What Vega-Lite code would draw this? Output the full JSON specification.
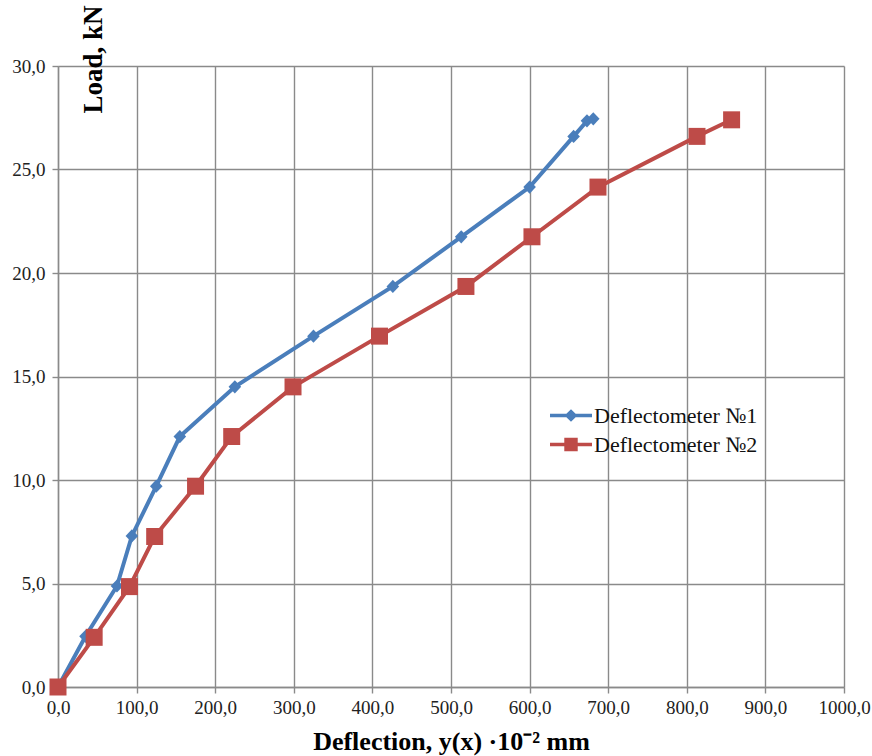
{
  "$schema": "https://vega.github.io/schema/vega-lite/v6.json",
  "width": 786,
  "height": 621,
  "autosize": {"type": "none"},
  "padding": {"left": 58, "top": 66, "right": 28, "bottom": 69},
  "background": "white",
  "config": {
    "view": {"stroke": null},
    "font": "Liberation Serif",
    "legend": {"labelFont": "Liberation Serif", "labelFontSize": 22, "labelColor": "#111111"},
    "axis": {
      "gridColor": "#8a8a8a",
      "gridWidth": 1.4,
      "gridOpacity": 1,
      "domainColor": "#8a8a8a",
      "domainWidth": 1.4,
      "tickColor": "#8a8a8a",
      "tickWidth": 1.4,
      "tickSize": 6,
      "labelFont": "Liberation Serif",
      "labelFontSize": 19,
      "labelColor": "#222222",
      "titleFont": "Liberation Serif",
      "titleFontSize": 26,
      "titleFontWeight": "bold",
      "titleColor": "#000000"
    }
  },
  "data": {
    "values": [
      {"series": "Deflectometer №1", "deflection": 0, "load": 0},
      {"series": "Deflectometer №1", "deflection": 35, "load": 2.45},
      {"series": "Deflectometer №1", "deflection": 75, "load": 4.88},
      {"series": "Deflectometer №1", "deflection": 94, "load": 7.3},
      {"series": "Deflectometer №1", "deflection": 125, "load": 9.7},
      {"series": "Deflectometer №1", "deflection": 155, "load": 12.1},
      {"series": "Deflectometer №1", "deflection": 225, "load": 14.5},
      {"series": "Deflectometer №1", "deflection": 325, "load": 16.95},
      {"series": "Deflectometer №1", "deflection": 426, "load": 19.35},
      {"series": "Deflectometer №1", "deflection": 513, "load": 21.75},
      {"series": "Deflectometer №1", "deflection": 600, "load": 24.15},
      {"series": "Deflectometer №1", "deflection": 656, "load": 26.6},
      {"series": "Deflectometer №1", "deflection": 673, "load": 27.35},
      {"series": "Deflectometer №1", "deflection": 681, "load": 27.45},
      {"series": "Deflectometer №2", "deflection": 0, "load": 0},
      {"series": "Deflectometer №2", "deflection": 46, "load": 2.4},
      {"series": "Deflectometer №2", "deflection": 91, "load": 4.85},
      {"series": "Deflectometer №2", "deflection": 123, "load": 7.27},
      {"series": "Deflectometer №2", "deflection": 175, "load": 9.7},
      {"series": "Deflectometer №2", "deflection": 221, "load": 12.1},
      {"series": "Deflectometer №2", "deflection": 299, "load": 14.5},
      {"series": "Deflectometer №2", "deflection": 409, "load": 16.95},
      {"series": "Deflectometer №2", "deflection": 519, "load": 19.35},
      {"series": "Deflectometer №2", "deflection": 603, "load": 21.75},
      {"series": "Deflectometer №2", "deflection": 687, "load": 24.15},
      {"series": "Deflectometer №2", "deflection": 813, "load": 26.6},
      {"series": "Deflectometer №2", "deflection": 857, "load": 27.4}
    ]
  },
  "encoding": {
    "x": {
      "field": "deflection",
      "type": "quantitative",
      "scale": {"domain": [0, 1000], "nice": false},
      "axis": {
        "values": [0, 100, 200, 300, 400, 500, 600, 700, 800, 900, 1000],
        "labelExpr": "replace(format(datum.value, '.1f'), '.', ',')",
        "labelPadding": 5,
        "labelFlush": false,
        "labelOverlap": false,
        "title": "Deflection, y(x) ·10⁻² mm",
        "titleY": 62,
        "titleBaseline": "alphabetic"
      }
    },
    "y": {
      "field": "load",
      "type": "quantitative",
      "scale": {"domain": [0, 30], "nice": false},
      "axis": {
        "values": [0, 5, 10, 15, 20, 25, 30],
        "labelExpr": "replace(format(datum.value, '.1f'), '.', ',')",
        "labelPadding": 7,
        "labelFlush": false,
        "labelOverlap": false,
        "title": "Load, kN",
        "titleFontSize": 27,
        "titleAngle": -90,
        "titleAlign": "right",
        "titleBaseline": "alphabetic",
        "titleX": 43,
        "titleY": -61
      }
    },
    "color": {
      "field": "series",
      "type": "nominal",
      "scale": {"domain": ["Deflectometer №1", "Deflectometer №2"], "range": ["#4A7EBB", "#BE4B48"]},
      "legend": {
        "title": null,
        "orient": "none",
        "legendX": 492,
        "legendY": 335,
        "symbolSize": 1764,
        "symbolType": "M-1,-0.08L-0.22,-0.08L0,-0.3L0.22,-0.08L1,-0.08L1,0.08L0.22,0.08L0,0.3L-0.22,0.08L-1,0.08Z",
        "symbolFillColor": "#4A7EBB",
        "symbolStrokeWidth": 0,
        "clipHeight": 29,
        "rowPadding": 0,
        "labelOffset": 2,
        "labelFont": "Liberation Serif",
        "labelFontSize": 22,
        "labelColor": "#111111",
        "labelLimit": 300,
        "padding": 0,
        "encode": {
          "symbols": {
            "update": {
              "shape": {"signal": "datum.value === 'Deflectometer №1' ? 'M-1,-0.08L-0.22,-0.08L0,-0.3L0.22,-0.08L1,-0.08L1,0.08L0.22,0.08L0,0.3L-0.22,0.08L-1,0.08Z' : 'M-1,-0.08L-0.32,-0.08L-0.32,-0.32L0.32,-0.32L0.32,-0.08L1,-0.08L1,0.08L0.32,0.08L0.32,0.32L-0.32,0.32L-0.32,0.08L-1,0.08Z'"},
              "fill": {"scale": "color", "field": "value"},
              "fillOpacity": {"value": 1},
              "strokeWidth": {"value": 0}
            }
          },
          "labels": {
            "update": {
              "font": {"value": "Liberation Serif"},
              "fontSize": {"value": 22},
              "fill": {"value": "#111111"}
            }
          }
        }
      }
    }
  },
  "layer": [
    {
      "mark": {"type": "line", "strokeWidth": 4}
    },
    {
      "transform": [{"filter": "datum.series === 'Deflectometer №1'"}],
      "mark": {"type": "point", "filled": true, "opacity": 1, "size": 400, "shape": "M-0.63,0L0,-0.66L0.63,0L0,0.66Z"}
    },
    {
      "transform": [{"filter": "datum.series === 'Deflectometer №2'"}],
      "mark": {"type": "point", "filled": true, "opacity": 1, "size": 400, "shape": "M-0.85,-0.85L0.85,-0.85L0.85,0.85L-0.85,0.85Z"}
    }
  ]
}
